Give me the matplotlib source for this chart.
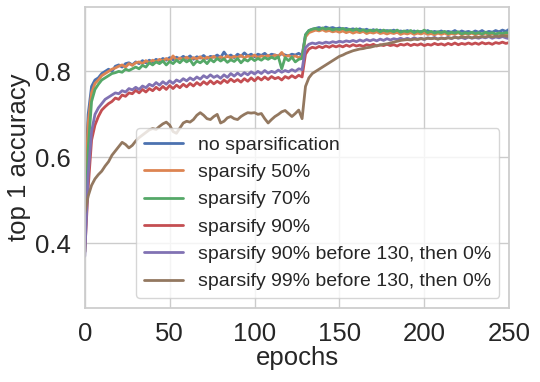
import numpy as np
import matplotlib
matplotlib.use("Agg")
import matplotlib.pyplot as plt
import seaborn as sns

# epochs at which accuracy was logged
epochs = list(range(0, 251, 2))

acc_none = [
    0.53, 0.70, 0.765, 0.78, 0.785, 0.795, 0.80, 0.805, 0.80, 0.812,
    0.815, 0.81, 0.818, 0.82, 0.815, 0.822, 0.818, 0.825, 0.82, 0.826,
    0.822, 0.828, 0.824, 0.83, 0.826, 0.832, 0.827, 0.833, 0.829, 0.835,
    0.83, 0.836, 0.828, 0.834, 0.831, 0.837, 0.83, 0.835, 0.833, 0.838,
    0.832, 0.845, 0.834, 0.838, 0.832, 0.84, 0.835, 0.843, 0.836, 0.84,
    0.834, 0.84, 0.837, 0.842, 0.835, 0.84, 0.838, 0.836, 0.841, 0.838,
    0.836, 0.84, 0.838, 0.842, 0.837,
    0.885, 0.895, 0.898, 0.90, 0.902, 0.899, 0.903, 0.90, 0.902, 0.899,
    0.901, 0.898, 0.90, 0.897, 0.899, 0.896, 0.899, 0.895, 0.898, 0.894,
    0.897, 0.893, 0.896, 0.892, 0.895, 0.893, 0.896, 0.891, 0.894, 0.892,
    0.895, 0.891, 0.894, 0.89, 0.893, 0.891, 0.895, 0.89, 0.893, 0.891,
    0.894, 0.89, 0.893, 0.891, 0.895, 0.89, 0.894, 0.891, 0.893, 0.89,
    0.894, 0.891, 0.895, 0.89, 0.893, 0.891, 0.895, 0.892, 0.896, 0.893,
    0.898,
]

acc_50 = [
    0.50, 0.68, 0.75, 0.772, 0.78, 0.79, 0.795, 0.80, 0.805, 0.808,
    0.812, 0.815, 0.81, 0.818, 0.814, 0.82, 0.822, 0.818, 0.825, 0.82,
    0.826, 0.822, 0.828, 0.824, 0.83, 0.825, 0.836, 0.826, 0.831, 0.828,
    0.833, 0.827, 0.832, 0.829, 0.834, 0.828, 0.833, 0.83, 0.835, 0.829,
    0.834, 0.83, 0.836, 0.831, 0.835, 0.832, 0.837, 0.831, 0.836, 0.833,
    0.838, 0.832, 0.836, 0.834, 0.837, 0.833, 0.838, 0.835, 0.844, 0.834,
    0.837, 0.833, 0.836, 0.832, 0.835,
    0.88, 0.89, 0.893, 0.896, 0.894, 0.897, 0.893, 0.895, 0.892, 0.894,
    0.891, 0.894, 0.89, 0.893, 0.889, 0.892, 0.89, 0.893, 0.888, 0.891,
    0.889, 0.892, 0.888, 0.89, 0.887, 0.89, 0.888, 0.891, 0.886, 0.889,
    0.887, 0.89, 0.886, 0.889, 0.887, 0.89, 0.886, 0.888, 0.885, 0.889,
    0.886, 0.889, 0.885, 0.888, 0.886, 0.89, 0.885, 0.888, 0.886, 0.889,
    0.885, 0.888, 0.886, 0.889, 0.885, 0.888, 0.886, 0.889, 0.886, 0.888,
    0.887,
]

acc_70 = [
    0.38, 0.62, 0.73, 0.758, 0.77, 0.78, 0.785, 0.79, 0.795, 0.797,
    0.80, 0.798, 0.805, 0.802, 0.806, 0.81, 0.806, 0.814, 0.81, 0.82,
    0.815, 0.822, 0.818, 0.824, 0.815, 0.823, 0.818, 0.826, 0.82, 0.828,
    0.822, 0.827, 0.815, 0.824, 0.82, 0.826, 0.818, 0.828, 0.822, 0.83,
    0.824, 0.829, 0.821, 0.827, 0.823, 0.83, 0.82, 0.828, 0.824, 0.831,
    0.825, 0.83, 0.826, 0.832, 0.828, 0.833, 0.829, 0.834, 0.806, 0.832,
    0.825, 0.833, 0.822, 0.828, 0.83,
    0.885, 0.895, 0.898, 0.90, 0.897, 0.901, 0.898, 0.90, 0.896, 0.899,
    0.897, 0.90, 0.896, 0.898, 0.895, 0.899, 0.894, 0.897, 0.893, 0.896,
    0.894, 0.897, 0.892, 0.896, 0.893, 0.895, 0.892, 0.896, 0.891, 0.894,
    0.892, 0.895, 0.89, 0.894, 0.891, 0.896, 0.89, 0.893, 0.889, 0.892,
    0.89, 0.893, 0.888, 0.891, 0.889, 0.892, 0.887, 0.89, 0.888, 0.891,
    0.888, 0.89, 0.887, 0.891, 0.888, 0.89, 0.887, 0.889, 0.888, 0.89,
    0.889,
]

acc_90 = [
    0.38, 0.53, 0.64, 0.675, 0.695, 0.71, 0.718, 0.725, 0.73, 0.738,
    0.735, 0.745, 0.742, 0.75, 0.748, 0.756, 0.75, 0.758, 0.752, 0.76,
    0.755, 0.763, 0.757, 0.765, 0.758, 0.767, 0.76, 0.768, 0.762, 0.77,
    0.764, 0.772, 0.766, 0.774, 0.768, 0.776, 0.77, 0.778, 0.771, 0.777,
    0.772, 0.78, 0.774, 0.782, 0.776, 0.781, 0.775, 0.783, 0.777, 0.785,
    0.778, 0.786, 0.78, 0.787, 0.781, 0.788, 0.783, 0.786, 0.78, 0.788,
    0.784, 0.79, 0.785, 0.791, 0.787,
    0.84, 0.852, 0.856, 0.854, 0.858, 0.855, 0.859, 0.856, 0.86, 0.857,
    0.86, 0.857, 0.861, 0.858, 0.862, 0.859, 0.861, 0.858, 0.862, 0.86,
    0.863, 0.859, 0.862, 0.86, 0.863, 0.86, 0.862, 0.859, 0.863, 0.861,
    0.864, 0.86, 0.863, 0.861, 0.864, 0.86, 0.863, 0.861, 0.865, 0.862,
    0.864, 0.861, 0.865, 0.862, 0.866, 0.862, 0.865, 0.863, 0.866, 0.863,
    0.866, 0.863, 0.867, 0.864, 0.866, 0.863, 0.867, 0.865, 0.868, 0.865,
    0.867,
]

acc_90_then_0 = [
    0.37, 0.56, 0.66, 0.70, 0.715, 0.725, 0.735, 0.74, 0.745, 0.75,
    0.748, 0.755, 0.752, 0.76, 0.757, 0.763, 0.758, 0.766, 0.762, 0.77,
    0.766, 0.774, 0.768, 0.776, 0.77, 0.778, 0.772, 0.78, 0.776, 0.783,
    0.778, 0.785, 0.78, 0.787, 0.782, 0.79, 0.785, 0.792, 0.786, 0.79,
    0.784, 0.792, 0.786, 0.795, 0.789, 0.796, 0.79, 0.797, 0.792, 0.799,
    0.794, 0.80, 0.795, 0.802, 0.796, 0.80, 0.797, 0.803, 0.798, 0.802,
    0.799, 0.804, 0.80, 0.806, 0.804,
    0.855, 0.863, 0.866, 0.864, 0.867, 0.865, 0.868, 0.866, 0.869, 0.867,
    0.87, 0.868, 0.871, 0.869, 0.872, 0.869, 0.873, 0.87, 0.874, 0.871,
    0.874, 0.871, 0.875, 0.872, 0.876, 0.873, 0.876, 0.874, 0.877, 0.874,
    0.877, 0.874, 0.878, 0.875, 0.877, 0.874, 0.878, 0.876, 0.879, 0.875,
    0.878, 0.876, 0.879, 0.876, 0.88, 0.877, 0.879, 0.876, 0.88, 0.877,
    0.879, 0.877, 0.88, 0.878, 0.881, 0.877, 0.88, 0.878, 0.881, 0.878,
    0.876,
]

acc_99_then_0 = [
    0.47, 0.51, 0.535, 0.55, 0.56, 0.568, 0.58, 0.59, 0.605, 0.615,
    0.625, 0.635, 0.63, 0.622, 0.628, 0.638, 0.646, 0.652, 0.658, 0.664,
    0.667, 0.665, 0.672, 0.678, 0.682, 0.675, 0.66, 0.656, 0.668, 0.68,
    0.684, 0.682, 0.688, 0.698, 0.704, 0.698, 0.69, 0.688, 0.695, 0.70,
    0.68, 0.684, 0.692, 0.695, 0.69, 0.688, 0.695, 0.70, 0.704, 0.703,
    0.704, 0.70, 0.702, 0.69, 0.68, 0.688, 0.695, 0.70, 0.706, 0.709,
    0.702, 0.695, 0.702, 0.71, 0.69,
    0.765, 0.785, 0.795, 0.80, 0.805, 0.81, 0.815, 0.82, 0.825, 0.83,
    0.835, 0.838, 0.842, 0.845, 0.848, 0.85, 0.852, 0.853, 0.855, 0.856,
    0.858, 0.86, 0.861, 0.863, 0.864, 0.866, 0.868, 0.87, 0.872, 0.873,
    0.874, 0.873, 0.875, 0.874, 0.876, 0.875, 0.877, 0.876, 0.877, 0.875,
    0.877, 0.876, 0.878, 0.877, 0.879, 0.878, 0.88, 0.879, 0.88, 0.878,
    0.88, 0.879, 0.881, 0.88, 0.882, 0.88, 0.882, 0.881, 0.883, 0.882,
    0.881,
]

labels = [
    "no sparsification",
    "sparsify 50%",
    "sparsify 70%",
    "sparsify 90%",
    "sparsify 90% before 130, then 0%",
    "sparsify 99% before 130, then 0%",
]
series = [acc_none, acc_50, acc_70, acc_90, acc_90_then_0, acc_99_then_0]

sns.set_theme(style="whitegrid")
plt.rcParams['font.family'] = ['Liberation Sans', 'DejaVu Sans']
colors = sns.color_palette("deep")

fig = plt.figure(figsize=(5.4, 3.82), dpi=100)
ax = fig.add_axes([0.157, 0.194, 0.786, 0.788])

for i in range(len(series)):
    ax.plot(epochs, series[i], color=colors[i], lw=2.0, label=labels[i])

ax.set_xlim(0, 250)
ax.set_ylim(0.25, 0.95)
ax.set_xticks([0, 50, 100, 150, 200, 250])
ax.set_yticks([0.4, 0.6, 0.8])
ax.tick_params(labelsize=18.5, pad=4)
ax.set_xlabel("epochs", fontsize=18.5, labelpad=0)
ax.set_ylabel("top 1 accuracy", fontsize=18.5, labelpad=3)

ax.legend(loc="lower right", fontsize=14, framealpha=0.8)

fig.savefig("out.png", dpi=100)
